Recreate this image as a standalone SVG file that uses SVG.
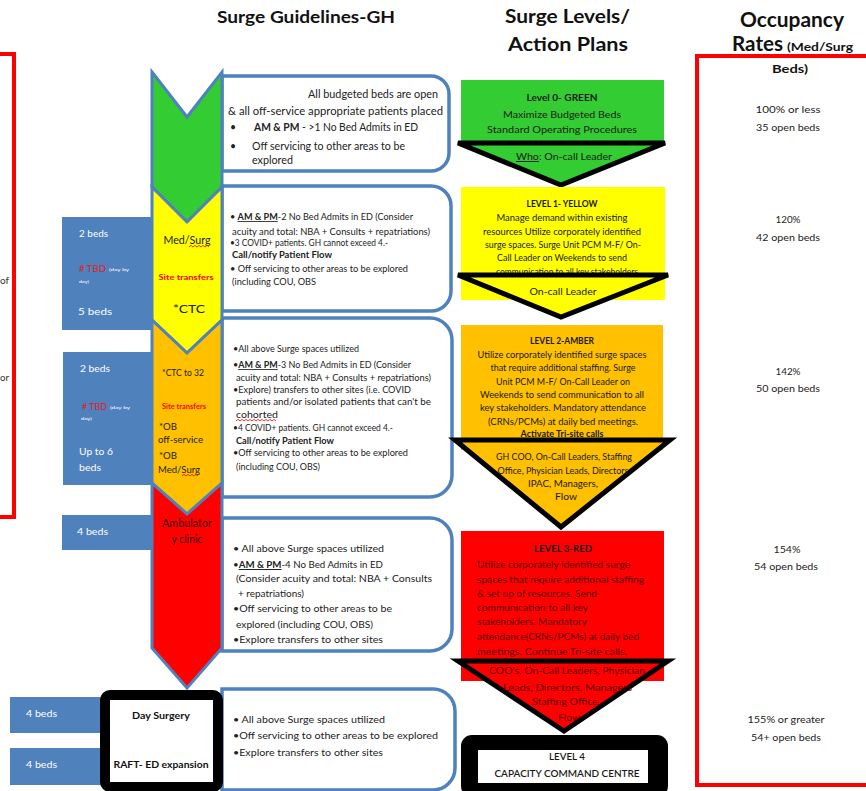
<svg xmlns="http://www.w3.org/2000/svg" width="866" height="791" viewBox="0 0 866 791">
<style>
text{font-family:"Lato","Liberation Sans",sans-serif;}
.h{font-weight:bold;fill:#111}
.b{font-size:10.5px;fill:#222}
.s{font-size:8.5px;fill:#222}
.d{font-size:10px;fill:#222}
.lv{font-size:9.5px;fill:#1a1a1a;text-anchor:middle}
.lr{font-size:9.5px;fill:#5a0000}
.oc{font-size:9.5px;fill:#222;text-anchor:middle}
.w{fill:#fff;font-size:10px}
.bold{font-weight:bold}
.u{text-decoration:underline}
.tbd{fill:#e02020;font-size:10px}
.tiny{fill:#fff;font-size:4.5px}
.st{fill:#ff0000;font-weight:bold;text-anchor:middle}
.ct{fill:#222;text-anchor:middle}
.chev{stroke:#4f81bd;stroke-width:3;stroke-linejoin:miter}
.tb{fill:#fff;stroke:#4f81bd;stroke-width:3.5}
.bb{fill:#4f81bd}
.tri{stroke:#000;stroke-width:5;stroke-linejoin:miter}
.sq{fill:none;stroke:#e00;stroke-width:0.8}
.frag{font-size:10px;fill:#333}
</style>

<!-- Headings -->
<g id="headings">
<text class="h" x="217" y="23" font-size="17" textLength="178" lengthAdjust="spacingAndGlyphs">Surge Guidelines-GH</text>
<text class="h" x="505" y="23" font-size="18" textLength="125" lengthAdjust="spacingAndGlyphs">Surge Levels/</text>
<text class="h" x="508" y="51" font-size="18" textLength="120" lengthAdjust="spacingAndGlyphs">Action Plans</text>
<text class="h" x="740" y="27" font-size="20" textLength="104" lengthAdjust="spacingAndGlyphs">Occupancy</text>
<text class="h" x="732" y="51" font-size="20" textLength="51" lengthAdjust="spacingAndGlyphs">Rates</text>
<text class="h" x="787" y="51" font-size="12" textLength="66" lengthAdjust="spacingAndGlyphs">(Med/Surg</text>
<text class="h" x="772" y="73" font-size="12" textLength="36" lengthAdjust="spacingAndGlyphs">Beds)</text>
</g>

<!-- Left red panel (cut off) -->
<g id="left-panel">
<rect x="-10" y="54" width="24" height="463" fill="none" stroke="#ff0000" stroke-width="4"/>
<text class="frag" x="0" y="284" textLength="9" lengthAdjust="spacingAndGlyphs">of</text>
<text class="frag" x="0" y="381" textLength="9" lengthAdjust="spacingAndGlyphs">or</text>
</g>

<!-- Occupancy panel -->
<g id="occupancy">
<rect x="697" y="56" width="180" height="729" fill="none" stroke="#ff0000" stroke-width="4"/>
<text class="oc" x="788" y="113" textLength="65" lengthAdjust="spacingAndGlyphs">100% or less</text>
<text class="oc" x="788" y="131" textLength="64" lengthAdjust="spacingAndGlyphs">35 open beds</text>
<text class="oc" x="788" y="223" textLength="25" lengthAdjust="spacingAndGlyphs">120%</text>
<text class="oc" x="788" y="241" textLength="64" lengthAdjust="spacingAndGlyphs">42 open beds</text>
<text class="oc" x="788" y="375" textLength="25" lengthAdjust="spacingAndGlyphs">142%</text>
<text class="oc" x="788" y="392" textLength="64" lengthAdjust="spacingAndGlyphs">50 open beds</text>
<text class="oc" x="787" y="553" textLength="27" lengthAdjust="spacingAndGlyphs">154%</text>
<text class="oc" x="786" y="570" textLength="64" lengthAdjust="spacingAndGlyphs">54 open beds</text>
<text class="oc" x="786" y="723" textLength="77" lengthAdjust="spacingAndGlyphs">155% or greater</text>
<text class="oc" x="786" y="741" textLength="70" lengthAdjust="spacingAndGlyphs">54+ open beds</text>
</g>

<!-- Blue bed boxes -->
<g id="beds-yellow">
<rect class="bb" x="62" y="217" width="92" height="113"/>
<text class="w" x="79" y="237" textLength="29" lengthAdjust="spacingAndGlyphs">2 beds</text>
<text class="tbd" x="79" y="272" textLength="27" lengthAdjust="spacingAndGlyphs"># TBD</text>
<text class="tiny" x="109" y="271" textLength="20" lengthAdjust="spacingAndGlyphs">(day by</text>
<text class="tiny" x="79" y="283" textLength="10" lengthAdjust="spacingAndGlyphs">day)</text>
<text class="w" x="78" y="315" textLength="34" lengthAdjust="spacingAndGlyphs">5  beds</text>
</g>
<g id="beds-amber">
<rect class="bb" x="63" y="352" width="91" height="133"/>
<text class="w" x="80" y="372" textLength="30" lengthAdjust="spacingAndGlyphs">2 beds</text>
<text class="tbd" x="82" y="410" textLength="25" lengthAdjust="spacingAndGlyphs"># TBD</text>
<text class="tiny" x="110" y="409" textLength="20" lengthAdjust="spacingAndGlyphs">(day by</text>
<text class="tiny" x="81" y="420" textLength="11" lengthAdjust="spacingAndGlyphs">day)</text>
<text class="w" x="79" y="455" font-size="11" textLength="34" lengthAdjust="spacingAndGlyphs">Up to 6</text>
<text class="w" x="79" y="471" font-size="11" textLength="22" lengthAdjust="spacingAndGlyphs">beds</text>
</g>
<g id="beds-red">
<rect class="bb" x="62" y="515" width="92" height="35"/>
<text class="w" x="77" y="535" textLength="31" lengthAdjust="spacingAndGlyphs">4 beds</text>
</g>
<g id="beds-day-surgery">
<rect class="bb" x="10" y="697" width="92" height="36"/>
<text class="w" x="26" y="717" textLength="31" lengthAdjust="spacingAndGlyphs">4 beds</text>
</g>
<g id="beds-raft">
<rect class="bb" x="10" y="748" width="92" height="37"/>
<text class="w" x="26" y="768" textLength="31" lengthAdjust="spacingAndGlyphs">4 beds</text>
</g>

<!-- Guideline text boxes -->
<g id="guide-green">
<path class="tb" d="M222,76 H431 A18,18 0 0 1 449,94 V153 A18,18 0 0 1 431,171 H222 Z"/>
<text class="b" x="308" y="98" textLength="130" lengthAdjust="spacingAndGlyphs">All budgeted beds are open</text>
<text class="b" x="228" y="115" textLength="215" lengthAdjust="spacingAndGlyphs">&amp; all off-service appropriate patients placed</text>
<text class="b" x="230" y="131">•</text>
<text class="b" x="254" y="131" textLength="164" lengthAdjust="spacingAndGlyphs"><tspan class="bold">AM &amp; PM</tspan> - &gt;1 No Bed Admits in ED</text>
<text class="b" x="230" y="150">•</text>
<text class="b" x="252" y="150" textLength="153" lengthAdjust="spacingAndGlyphs">Off servicing to other areas to be</text>
<text class="b" x="252" y="164" textLength="41" lengthAdjust="spacingAndGlyphs">explored</text>
</g>

<g id="guide-yellow">
<path class="tb" d="M222,186 H431 A20,20 0 0 1 451,206 V291 A20,20 0 0 1 431,311 H222 Z"/>
<text class="s" x="230" y="220" textLength="183" lengthAdjust="spacingAndGlyphs">• <tspan class="bold u">AM &amp; PM</tspan>-2 No Bed Admits in ED (Consider</text>
<text class="s" x="232" y="235" textLength="198" lengthAdjust="spacingAndGlyphs">acuity and total: NBA + Consults  + repatriations)</text>
<text class="s" x="230" y="246" textLength="158" lengthAdjust="spacingAndGlyphs">•3 COVID+ patients. GH cannot exceed  4.-</text>
<text class="s bold" x="232" y="258" textLength="100" lengthAdjust="spacingAndGlyphs">Call/notify Patient Flow</text>
<text class="s" x="230" y="272" textLength="178" lengthAdjust="spacingAndGlyphs">• Off servicing to other areas to be explored</text>
<text class="s" x="232" y="285" textLength="84" lengthAdjust="spacingAndGlyphs">(including COU, OBS</text>
</g>

<g id="guide-amber">
<path class="tb" d="M222,318 H430 A22,22 0 0 1 452,340 V475 A22,22 0 0 1 430,497 H222 Z"/>
<text class="s" x="233" y="352" textLength="126" lengthAdjust="spacingAndGlyphs">•All above Surge spaces utilized</text>
<text class="s" x="233" y="368" textLength="178" lengthAdjust="spacingAndGlyphs">•<tspan class="bold u">AM &amp; PM</tspan>-3 No Bed Admits in ED (Consider</text>
<text class="s" x="236" y="381" textLength="195" lengthAdjust="spacingAndGlyphs">acuity and total: NBA + Consults  + repatriations)</text>
<text class="s" x="233" y="393" textLength="178" lengthAdjust="spacingAndGlyphs">•Explore) transfers to other sites (i.e. COVID</text>
<text class="s" x="236" y="405" textLength="195" lengthAdjust="spacingAndGlyphs">patients and/or isolated patients that can't be</text>
<text class="s" x="236" y="418" textLength="42" lengthAdjust="spacingAndGlyphs">cohorted</text>
<path class="sq" d="M236,421 l2,-1.6 l2,1.6 l2,-1.6 l2,1.6 l2,-1.6 l2,1.6 l2,-1.6 l2,1.6 l2,-1.6 l2,1.6 l2,-1.6 l2,1.6 l2,-1.6 l2,1.6 l2,-1.6 l2,1.6 l2,-1.6 l2,1.6 l2,-1.6 l2,1.6"/>
<text class="s" x="233" y="431" textLength="160" lengthAdjust="spacingAndGlyphs">•4 COVID+ patients. GH cannot exceed  4.-</text>
<text class="s bold" x="236" y="444" textLength="98" lengthAdjust="spacingAndGlyphs">Call/notify Patient Flow</text>
<text class="s" x="233" y="456" textLength="175" lengthAdjust="spacingAndGlyphs">•Off servicing to other areas to be explored</text>
<text class="s" x="236" y="470" textLength="84" lengthAdjust="spacingAndGlyphs">(including COU, OBS)</text>
</g>

<g id="guide-red">
<path class="tb" d="M222,518 H430 A22,22 0 0 1 452,540 V629 A22,22 0 0 1 430,651 H222 Z"/>
<text class="d" x="233" y="552" textLength="151" lengthAdjust="spacingAndGlyphs">• All above Surge spaces utilized</text>
<text class="d" x="233" y="568" textLength="150" lengthAdjust="spacingAndGlyphs">•<tspan class="bold u">AM &amp; PM</tspan>-4 No Bed Admits in ED</text>
<text class="d" x="236" y="582" textLength="196" lengthAdjust="spacingAndGlyphs">(Consider acuity and total: NBA + Consults</text>
<text class="d" x="238" y="597" textLength="66" lengthAdjust="spacingAndGlyphs">+ repatriations)</text>
<text class="d" x="233" y="612" textLength="159" lengthAdjust="spacingAndGlyphs">•Off servicing to other areas to be</text>
<text class="d" x="236" y="628" textLength="137" lengthAdjust="spacingAndGlyphs">explored (including COU, OBS)</text>
<text class="d" x="233" y="643" textLength="150" lengthAdjust="spacingAndGlyphs">•Explore transfers to other sites</text>
</g>

<g id="guide-black">
<path class="tb" d="M222,689 H433 A22,22 0 0 1 455,711 V768 A22,22 0 0 1 433,790 H222 Z"/>
<text class="d" x="233" y="723" textLength="152" lengthAdjust="spacingAndGlyphs">• All above Surge spaces utilized</text>
<text class="d" x="233" y="739" textLength="205" lengthAdjust="spacingAndGlyphs">•Off servicing to other areas to be explored</text>
<text class="d" x="233" y="756" textLength="150" lengthAdjust="spacingAndGlyphs">•Explore transfers to other sites</text>
</g>

<!-- Chevron column -->
<g id="chevron-green">
<polygon class="chev" fill="#33cc33" points="152,72 187,117 222,72 222,187 187,222 152,187"/>
</g>
<g id="chevron-yellow">
<polygon class="chev" fill="#ffff00" points="152,187 187,222 222,187 222,320 187,353 152,320"/>
<text class="ct" x="187" y="244" font-size="11" textLength="47" lengthAdjust="spacingAndGlyphs">Med/Surg</text>
<path class="sq" d="M189,247 l2,-1.6 l2,1.6 l2,-1.6 l2,1.6 l2,-1.6 l2,1.6 l2,-1.6 l2,1.6 l2,-1.6 l2,1.6"/>
<text class="st" x="186" y="280" font-size="8" textLength="55" lengthAdjust="spacingAndGlyphs">Site transfers</text>
<text class="ct" x="189" y="313" font-size="12" textLength="32" lengthAdjust="spacingAndGlyphs">*CTC</text>
</g>
<g id="chevron-amber">
<polygon class="chev" fill="#ffc000" points="152,320 187,353 222,320 222,483 187,514 152,483"/>
<text x="162" y="376" font-size="9" fill="#222" textLength="42" lengthAdjust="spacingAndGlyphs">*CTC to 32</text>
<text x="162" y="409" font-size="7" fill="#ff0000" font-weight="bold" textLength="44" lengthAdjust="spacingAndGlyphs">Site transfers</text>
<text x="159" y="430" font-size="10" fill="#222" textLength="18" lengthAdjust="spacingAndGlyphs">*OB</text>
<text x="158" y="443" font-size="10" fill="#222" textLength="45" lengthAdjust="spacingAndGlyphs">off-service</text>
<text x="159" y="459" font-size="10" fill="#222" textLength="18" lengthAdjust="spacingAndGlyphs">*OB</text>
<text x="158" y="473" font-size="10" fill="#222" textLength="42" lengthAdjust="spacingAndGlyphs">Med/Surg</text>
<path class="sq" d="M182,476 l2,-1.6 l2,1.6 l2,-1.6 l2,1.6 l2,-1.6 l2,1.6 l2,-1.6 l2,1.6"/>
</g>
<g id="chevron-red">
<polygon class="chev" fill="#ff0000" points="152,483 187,514 222,483 222,648 187,688 152,648"/>
<text x="187" y="527" font-size="11" fill="#3a0000" text-anchor="middle" textLength="50" lengthAdjust="spacingAndGlyphs">Ambulator</text>
<text x="187" y="543" font-size="11" fill="#3a0000" text-anchor="middle" textLength="31" lengthAdjust="spacingAndGlyphs">y clinic</text>
</g>
<g id="day-surgery">
<rect x="105" y="695" width="113" height="92" rx="5" fill="#fff" stroke="#000" stroke-width="10"/>
<text x="161" y="719" font-size="9" font-weight="bold" fill="#111" text-anchor="middle" textLength="58" lengthAdjust="spacingAndGlyphs">Day Surgery</text>
<text x="161" y="768" font-size="9" font-weight="bold" fill="#111" text-anchor="middle" textLength="95" lengthAdjust="spacingAndGlyphs">RAFT- ED expansion</text>
</g>

<!-- Surge levels -->
<g id="level-0">
<rect x="461" y="80" width="203" height="62" fill="#33cc33"/>
<polygon class="tri" fill="#33cc33" points="458,143 665,143 561,185"/>
<text class="lv bold" x="562" y="101" textLength="71" lengthAdjust="spacingAndGlyphs">Level 0- GREEN</text>
<text class="lv" x="562" y="118" textLength="118" lengthAdjust="spacingAndGlyphs">Maximize Budgeted Beds</text>
<text class="lv" x="562" y="133" textLength="150" lengthAdjust="spacingAndGlyphs">Standard Operating Procedures</text>
<text class="lv" x="564" y="160" textLength="96" lengthAdjust="spacingAndGlyphs"><tspan class="u">Who</tspan>: On-call Leader</text>
</g>
<g id="level-1">
<rect x="461" y="187" width="204" height="113" fill="#ffff00"/>
<text class="lv bold" x="562" y="207" textLength="71" lengthAdjust="spacingAndGlyphs">LEVEL 1- YELLOW</text>
<text class="lv" x="562" y="221" textLength="131" lengthAdjust="spacingAndGlyphs">Manage demand within existing</text>
<text class="lv" x="562" y="234.5" textLength="158" lengthAdjust="spacingAndGlyphs">resources Utilize corporately identified</text>
<text class="lv" x="563" y="248" textLength="156" lengthAdjust="spacingAndGlyphs">surge spaces. Surge Unit PCM M-F/ On-</text>
<text class="lv" x="562" y="261" textLength="130" lengthAdjust="spacingAndGlyphs">Call Leader on Weekends to send</text>
<text class="lv" x="567" y="274.5" textLength="142" lengthAdjust="spacingAndGlyphs">communication to all key stakeholders</text>
<polygon class="tri" fill="#ffff00" points="458,275 668,275 561,317"/>
<text class="lv" x="563" y="295" textLength="67" lengthAdjust="spacingAndGlyphs">On-call Leader</text>
</g>
<g id="level-2">
<rect x="461" y="325" width="202" height="125" fill="#ffc000"/>
<text class="lv bold" x="562" y="344" textLength="64" lengthAdjust="spacingAndGlyphs">LEVEL 2-AMBER</text>
<text class="lv" x="562" y="357.5" textLength="169" lengthAdjust="spacingAndGlyphs">Utilize corporately identified surge spaces</text>
<text class="lv" x="563" y="371" textLength="145" lengthAdjust="spacingAndGlyphs">that require additional staffing.  Surge</text>
<text class="lv" x="563" y="384.5" textLength="134" lengthAdjust="spacingAndGlyphs">Unit PCM M-F/ On-Call Leader on</text>
<text class="lv" x="562" y="398" textLength="164" lengthAdjust="spacingAndGlyphs">Weekends to send communication to all</text>
<text class="lv" x="563" y="410.5" textLength="166" lengthAdjust="spacingAndGlyphs">key stakeholders. Mandatory attendance</text>
<text class="lv" x="563" y="424.5" textLength="150" lengthAdjust="spacingAndGlyphs">(CRNs/PCMs) at daily bed meetings.</text>
<text class="lv bold u" x="562" y="437" textLength="83" lengthAdjust="spacingAndGlyphs">Activate Tri-site calls</text>
<polygon class="tri" fill="#ffc000" points="455,440 670,440 561,527"/>
<text class="lv" x="564" y="460" textLength="136" lengthAdjust="spacingAndGlyphs">GH COO, On-Call Leaders, Staffing</text>
<text class="lv" x="564" y="473.5" textLength="133" lengthAdjust="spacingAndGlyphs">Office, Physician Leads, Directors,</text>
<text class="lv" x="563" y="487" textLength="70" lengthAdjust="spacingAndGlyphs">IPAC, Managers,</text>
<text class="lv" x="566" y="500" textLength="22" lengthAdjust="spacingAndGlyphs">Flow</text>
</g>
<g id="level-3">
<rect x="461" y="531" width="203" height="150" fill="#ff0000"/>
<text class="lv bold" x="563" y="552" textLength="58" lengthAdjust="spacingAndGlyphs">LEVEL 3-RED</text>
<text class="lr" x="477" y="568" textLength="153" lengthAdjust="spacingAndGlyphs">Utilize corporately identified surge</text>
<text class="lr" x="477" y="582.5" textLength="167" lengthAdjust="spacingAndGlyphs">spaces that require additional staffing</text>
<text class="lr" x="477" y="597" textLength="120" lengthAdjust="spacingAndGlyphs">&amp; set up of resources. Send</text>
<text class="lr" x="477" y="611" textLength="111" lengthAdjust="spacingAndGlyphs">communication to all key</text>
<text class="lr" x="477" y="625" textLength="110" lengthAdjust="spacingAndGlyphs">stakeholders. Mandatory</text>
<text class="lr" x="477" y="639.5" textLength="162" lengthAdjust="spacingAndGlyphs">attendance(CRNs/PCMs) at daily bed</text>
<text class="lr" x="477" y="654.5" textLength="150" lengthAdjust="spacingAndGlyphs">meetings. Continue Tri-site calls.</text>
<polygon class="tri" fill="#ff0000" points="458,661 668,661 564,731"/>
<text class="lr" x="489" y="673.5" textLength="156" lengthAdjust="spacingAndGlyphs">COO's, On-Call Leaders, Physician</text>
<text class="lr" x="503" y="691" textLength="129" lengthAdjust="spacingAndGlyphs">Leads, Directors, Managers</text>
<text class="lr" x="532" y="705" textLength="68" lengthAdjust="spacingAndGlyphs">Staffing Office,</text>
<text class="lr" x="558" y="721" textLength="22" lengthAdjust="spacingAndGlyphs">Flow</text>
</g>
<g id="level-4">
<rect x="461" y="735" width="207" height="62" rx="11" fill="#000"/>
<rect x="478" y="750" width="170" height="33" fill="#fff"/>
<text class="lv" x="567" y="760" font-weight="600" textLength="36" lengthAdjust="spacingAndGlyphs">LEVEL 4</text>
<text class="lv" x="567" y="777" font-weight="600" textLength="145" lengthAdjust="spacingAndGlyphs">CAPACITY COMMAND CENTRE</text>
</g>
</svg>
